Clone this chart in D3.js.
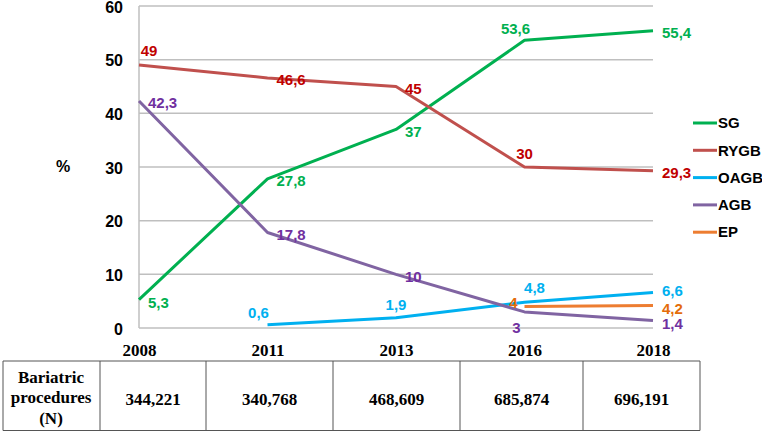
<!DOCTYPE html>
<html><head><meta charset="utf-8">
<script src="https://cdn.jsdelivr.net/npm/d3@7"></script>
<style>body{margin:0;background:#fff}svg{display:block}</style>
</head><body>
<svg id="c" width="762" height="434"></svg>
<script>
const years = ["2008","2011","2013","2016","2018"];
const yTicks = [0,10,20,30,40,50,60];
const sgValues   = [5.3, 27.8, 37, 53.6, 55.4];
const rygbValues = [49, 46.6, 45, 30, 29.3];
const oagbValues = [null, 0.6, 1.9, 4.8, 6.6];
const agbValues  = [42.3, 17.8, 10, 3, 1.4];
const epValues   = [null, null, null, 4, 4.2];
const tableRowLabel = ["Bariatric","procedures","(N)"];
const procedures = ["344,221","340,768","468,609","685,874","696,191"];

const series = [
  {name:"SG", values:sgValues, line:"#00b050", text:"#00b050", pos:["br","r","r","al","r"]},
  {name:"RYGB", values:rygbValues, line:"#c0504d", text:"#c00000", pos:["ar","r","r","a","r"]},
  {name:"OAGB", values:oagbValues, line:"#00b0f0", text:"#00b0f0", pos:[null,"al","a","ar","ru"]},
  {name:"AGB", values:agbValues, line:"#8064a2", text:"#7030a0", pos:["r","r","r","bl","rd"]},
  {name:"EP", values:epValues, line:"#ed7d31", text:"#e46c0a", pos:[null,null,null,"l","rm"]}
];

const svg = d3.select("#c");
const x = d3.scalePoint().domain(years).range([139,653]);
const y = d3.scaleLinear().domain([0,60]).range([328,6]);
const sans = "'Liberation Sans', Arial, sans-serif";
const serif = "'Liberation Serif', 'Times New Roman', serif";

// gridlines
svg.append("g").selectAll("line").data(yTicks).join("line")
  .attr("x1",139).attr("x2",653).attr("y1",d=>y(d)).attr("y2",d=>y(d))
  .attr("stroke","#bfbfbf").attr("stroke-width",1.5);
svg.append("line").attr("x1",139).attr("x2",139).attr("y1",y(60)).attr("y2",y(0))
  .attr("stroke","#bfbfbf").attr("stroke-width",1.5);

// y axis
const yAxis = d3.axisLeft(y).tickValues(yTicks).tickSize(0).tickPadding(16);
const gy = svg.append("g").attr("transform","translate(139,1)").call(yAxis);
gy.select(".domain").remove();
gy.selectAll("text").attr("font-family",sans).attr("font-weight","bold").attr("font-size",16).attr("fill","#000");
svg.append("text").attr("x",63).attr("y",166).attr("dy","0.35em").attr("text-anchor","middle")
  .attr("font-family",sans).attr("font-weight","bold").attr("font-size",16).text("%");

// x axis
const xAxis = d3.axisBottom(x).tickSize(0).tickPadding(0);
const gx = svg.append("g").attr("transform","translate(0,345)").call(xAxis);
gx.select(".domain").remove();
gx.selectAll("text").attr("font-family",serif).attr("font-weight","bold").attr("font-size",17).attr("fill","#000").attr("dy","0.35em").attr("y",5);

// lines
const line = d3.line().defined(d=>d.v!=null).x(d=>x(d.yr)).y(d=>y(d.v));
series.forEach(s=>{
  const pts = years.map((yr,i)=>({yr, v:s.values[i]}));
  svg.append("path").datum(pts).attr("d",line).attr("fill","none")
    .attr("stroke",s.line).attr("stroke-width",3).attr("stroke-linejoin","round");
});
// labels
const off = {r:[9,2,"start"], ru:[9,-1.5,"start"], rm:[9,3,"start"], rd:[9,3.5,"start"], l:[-7,-4,"end"], a:[0,-13,"middle"], al:[-9,-12,"middle"], ar:[10,-14,"middle"],
  br:[9,3,"start"], bl:[-8,16,"middle"]};
series.forEach(s=>{
  years.forEach((yr,i)=>{
    const v=s.values[i]; if(v==null) return;
    const o=off[s.pos[i]];
    svg.append("text").attr("x",x(yr)+o[0]).attr("y",y(v)+o[1]).attr("dy","0.35em")
      .attr("text-anchor",o[2]).attr("font-family",sans).attr("font-weight","bold").attr("font-size",15)
      .attr("fill",s.text).text(String(v).replace(".",","));
  });
});

// legend
const lg = svg.append("g");
series.forEach((s,i)=>{
  const ly = 123 + i*27.3;
  lg.append("line").attr("x1",693).attr("x2",717).attr("y1",ly).attr("y2",ly).attr("stroke",s.line).attr("stroke-width",3);
  lg.append("text").attr("x",718).attr("y",ly).attr("dy","0.35em").attr("font-family",sans).attr("font-weight","bold")
    .attr("font-size",15).attr("fill","#000").text(s.name);
});

// table
const cols = [3,100,206,333,460,583,700];
const tb = svg.append("g").attr("stroke","#555").attr("stroke-width",1);
tb.append("line").attr("x1",3).attr("x2",700).attr("y1",361).attr("y2",361);
tb.append("line").attr("x1",3).attr("x2",700).attr("y1",430.5).attr("y2",430.5);
cols.forEach(c=>tb.append("line").attr("x1",c).attr("x2",c).attr("y1",361).attr("y2",430.5));
tableRowLabel.forEach((t,i)=>{
  svg.append("text").attr("x",51).attr("y",377+i*20.5).attr("dy","0.35em").attr("text-anchor","middle")
    .attr("font-family",serif).attr("font-weight","bold").attr("font-size",17).text(t);
});
procedures.forEach((t,i)=>{
  svg.append("text").attr("x",(cols[i+1]+cols[i+2])/2).attr("y",399).attr("dy","0.35em").attr("text-anchor","middle")
    .attr("font-family",serif).attr("font-weight","bold").attr("font-size",17).text(t);
});
</script>
</body></html>
